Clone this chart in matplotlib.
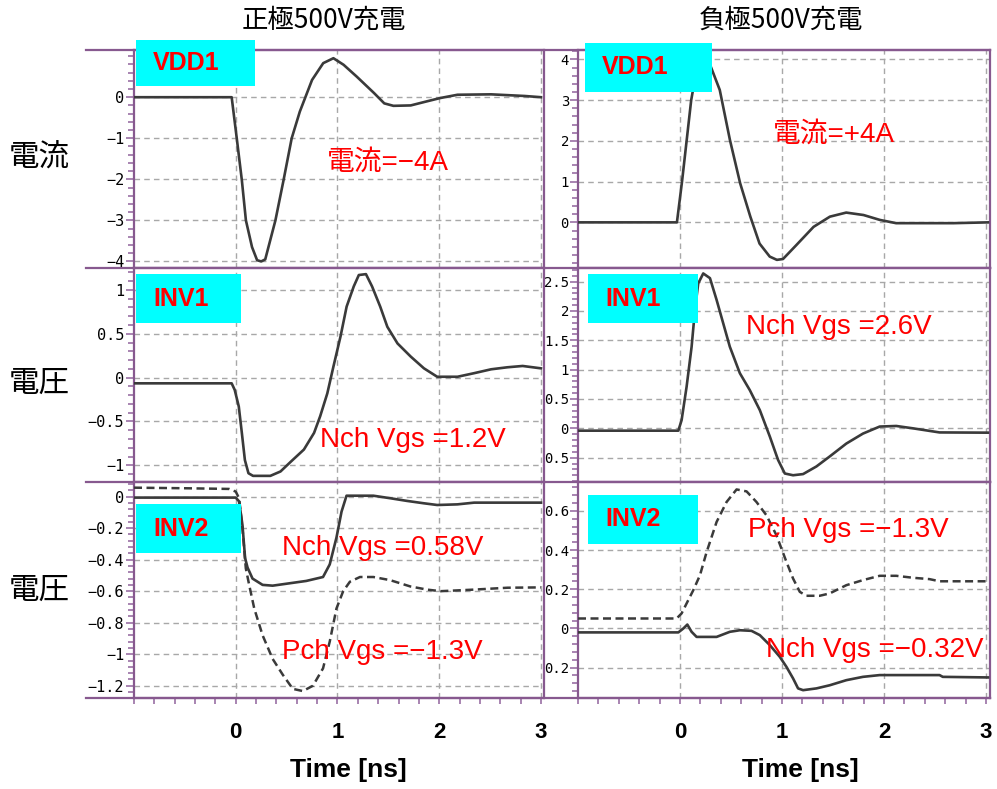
import matplotlib
matplotlib.use('Agg')
import matplotlib.pyplot as plt
from matplotlib.lines import Line2D
from matplotlib.patches import Rectangle
from matplotlib.ticker import FixedLocator, MultipleLocator

W, H = 997, 789
PURPLE = '#87598f'
TICKC = '#9a70a4'
TRACE = '#3a3a3a'
GRIDC = '#a8a8a8'
CYAN = '#00ffff'
RED = '#ff0000'

# waveforms, time in ns
t_vdd1_pos = [-1.0, -0.04, 0.01, 0.06, 0.10, 0.16, 0.21, 0.25, 0.29, 0.39, 0.47, 0.55, 0.63,
              0.75, 0.86, 0.96, 1.06, 1.19, 1.36, 1.46, 1.55, 1.72, 1.88, 2.01, 2.18, 2.51, 2.84, 3.0]
i_vdd1_pos = [0.0, 0.0, -1.0, -2.02, -3.0, -3.65, -3.97, -4.0, -3.95, -3.0, -2.02, -1.0, -0.35,
              0.42, 0.83, 0.95, 0.79, 0.50, 0.10, -0.15, -0.21, -0.20, -0.10, -0.02, 0.06, 0.07, 0.03, 0.0]

t_vdd1_neg = [-1.0, -0.03, 0.02, 0.065, 0.11, 0.16, 0.23, 0.29, 0.39, 0.49, 0.59, 0.69, 0.78,
              0.88, 0.95, 1.01, 1.14, 1.31, 1.47, 1.63, 1.80, 1.96, 2.12, 2.68, 3.02]
i_vdd1_neg = [0.0, 0.0, 1.0, 2.0, 3.0, 3.7, 4.0, 3.9, 3.25, 2.02, 0.96, 0.14, -0.52,
              -0.84, -0.92, -0.9, -0.56, -0.11, 0.14, 0.24, 0.18, 0.06, -0.02, -0.02, 0.0]

t_inv1_pos = [-1.0, -0.04, -0.01, 0.03, 0.06, 0.09, 0.125, 0.17, 0.34, 0.44, 0.54, 0.67, 0.77,
              0.83, 0.90, 0.96, 1.03, 1.09, 1.16, 1.21, 1.28, 1.34, 1.42, 1.49, 1.59, 1.72, 1.85,
              1.98, 2.18, 2.34, 2.51, 2.67, 2.82, 3.0]
v_inv1_pos = [-0.065, -0.065, -0.14, -0.33, -0.63, -0.94, -1.09, -1.12, -1.12, -1.07, -0.96, -0.82, -0.63,
              -0.44, -0.18, 0.125, 0.47, 0.81, 1.04, 1.17, 1.18, 1.04, 0.81, 0.58, 0.39, 0.24, 0.106,
              0.01, 0.01, 0.05, 0.095, 0.118, 0.133, 0.106]

t_inv1_neg = [-1.0, -0.016, 0.016, 0.065, 0.114, 0.147, 0.179, 0.228, 0.294, 0.359, 0.424, 0.489,
              0.587, 0.685, 0.783, 0.881, 0.962, 1.028, 1.109, 1.207, 1.338, 1.468, 1.631, 1.794,
              1.958, 2.121, 2.284, 2.545, 3.02]
v_inv1_neg = [-0.04, -0.04, 0.14, 0.71, 1.39, 2.02, 2.47, 2.64, 2.56, 2.19, 1.79, 1.39,
              0.94, 0.65, 0.31, -0.14, -0.54, -0.77, -0.80, -0.78, -0.65, -0.48, -0.26, -0.09,
              0.03, 0.04, 0.0, -0.07, -0.074]

t_inv2n_pos = [-1.0, 0.0, 0.033, 0.066, 0.092, 0.116, 0.165, 0.264, 0.363, 0.528, 0.693, 0.858,
               0.924, 0.99, 1.04, 1.089, 1.353, 1.518, 1.683, 1.848, 1.98, 2.178, 2.343, 3.0]
v_inv2n_pos = [-0.006, -0.006, -0.03, -0.18, -0.39, -0.45, -0.52, -0.56, -0.565, -0.55, -0.535, -0.51,
               -0.43, -0.26, -0.095, 0.006, 0.006, -0.01, -0.027, -0.042, -0.053, -0.049, -0.038, -0.038]

t_inv2p_pos = [-1.0, -0.46, -0.066, 0.0, 0.033, 0.066, 0.099, 0.132, 0.182, 0.264, 0.363, 0.462,
               0.561, 0.66, 0.759, 0.858, 0.924, 0.99, 1.056, 1.122, 1.221, 1.353, 1.518, 1.716,
               1.881, 2.013, 2.343, 2.673, 3.0]
v_inv2p_pos = [0.057, 0.053, 0.049, 0.032, -0.01, -0.2, -0.455, -0.56, -0.71, -0.88, -1.03, -1.13,
               -1.22, -1.234, -1.2, -1.09, -0.92, -0.71, -0.6, -0.54, -0.51, -0.51, -0.53, -0.57,
               -0.59, -0.6, -0.59, -0.578, -0.576]

t_inv2p_neg = [-1.0, -0.033, 0.016, 0.065, 0.131, 0.196, 0.261, 0.359, 0.457, 0.555, 0.653, 0.75,
               0.848, 0.946, 1.044, 1.109, 1.175, 1.24, 1.37, 1.468, 1.631, 1.794, 1.958, 2.121,
               2.284, 2.447, 2.545, 3.02]
v_inv2p_neg = [0.051, 0.051, 0.077, 0.128, 0.196, 0.272, 0.39, 0.544, 0.646, 0.71, 0.70, 0.646,
               0.578, 0.476, 0.34, 0.255, 0.187, 0.167, 0.167, 0.179, 0.221, 0.247, 0.269, 0.269,
               0.259, 0.252, 0.241, 0.241]

t_inv2n_neg = [-1.0, -0.016, 0.033, 0.072, 0.114, 0.163, 0.359, 0.489, 0.587, 0.701, 0.783, 0.881,
               0.979, 1.044, 1.109, 1.158, 1.207, 1.338, 1.468, 1.631, 1.794, 1.958, 2.545, 2.577, 3.02]
v_inv2n_neg = [-0.02, -0.02, 0.0, 0.02, -0.017, -0.043, -0.043, -0.017, -0.009, -0.012, -0.034, -0.085,
               -0.145, -0.196, -0.255, -0.306, -0.315, -0.306, -0.29, -0.264, -0.247, -0.238, -0.238,
               -0.247, -0.25]

# y tick values and the labels printed beside them
yt_vdd1_pos = [0, -1, -2, -3, -4]
yl_vdd1_pos = ['0', '−1', '−2', '−3', '−4']
yt_vdd1_neg = [0, 1, 2, 3, 4]
yl_vdd1_neg = ['0', '1', '2', '3', '4']
yt_inv1_pos = [1, 0.5, 0, -0.5, -1]
yl_inv1_pos = ['1', '0.5', '0', '−0.5', '−1']
yt_inv1_neg = [2.5, 2, 1.5, 1, 0.5, 0, -0.5]
yl_inv1_neg = ['2.5', '2', '1.5', '1', '0.5', '0', '0.5']
yt_inv2_pos = [0, -0.2, -0.4, -0.6, -0.8, -1, -1.2]
yl_inv2_pos = ['0', '−0.2', '−0.4', '−0.6', '−0.8', '−1', '−1.2']
yt_inv2_neg = [0.6, 0.4, 0.2, 0, -0.2]
yl_inv2_neg = ['0.6', '0.4', '0.2', '0', '0.2']

x_ticks = [0, 1, 2, 3]
x_labels = ['0', '1', '2', '3']

col_titles = ['正極500V充電', '負極500V充電']
row_titles = ['電流', '電圧', '電圧']


def fx(px):
    return px / W


def fy(py):
    return 1 - py / H


fig = plt.figure(figsize=(W / 100, H / 100), dpi=100)
fig.patch.set_facecolor('white')

cols = [(134, 544), (578, 990)]
rows = [(50, 268), (268, 482), (482, 698)]
xlims = [(-1.0, 3.03), (-1.0, 3.04)]
ylims = [[(-4.16, 1.15), (-1.12, 4.23)],
         [(-1.19, 1.25), (-0.915, 2.733)],
         [(-1.278, 0.093), (-0.355, 0.748)]]
yticks = [[(yt_vdd1_pos, yl_vdd1_pos), (yt_vdd1_neg, yl_vdd1_neg)],
          [(yt_inv1_pos, yl_inv1_pos), (yt_inv1_neg, yl_inv1_neg)],
          [(yt_inv2_pos, yl_inv2_pos), (yt_inv2_neg, yl_inv2_neg)]]
yminor = [[0.2, 0.2], [0.1, 0.1], [0.04, 0.04]]
traces = [[[(t_vdd1_pos, i_vdd1_pos, '-')], [(t_vdd1_neg, i_vdd1_neg, '-')]],
          [[(t_inv1_pos, v_inv1_pos, '-')], [(t_inv1_neg, v_inv1_neg, '-')]],
          [[(t_inv2p_pos, v_inv2p_pos, '--'), (t_inv2n_pos, v_inv2n_pos, '-')],
           [(t_inv2p_neg, v_inv2p_neg, '--'), (t_inv2n_neg, v_inv2n_neg, '-')]]]

for r, (ytop, ybot) in enumerate(rows):
    for c, (xl, xr) in enumerate(cols):
        ax = fig.add_axes([fx(xl), fy(ybot), fx(xr) - fx(xl), (ybot - ytop) / H])
        ax.set_xlim(*xlims[c])
        ax.set_ylim(*ylims[r][c])
        for s in ax.spines.values():
            s.set_color(PURPLE)
            s.set_linewidth(1.6)
        for t, v, ls in traces[r][c]:
            if ls == '--':
                ax.plot(t, v, color=TRACE, lw=1.8, dashes=(3.2, 1.8), zorder=3)
            else:
                ax.plot(t, v, color=TRACE, lw=1.9, zorder=3)
        vals, labs = yticks[r][c]
        ax.yaxis.set_major_locator(FixedLocator(vals))
        ax.set_yticklabels(labs, family='DejaVu Sans Mono',
                           fontsize=11 if c == 0 else 10)
        ax.yaxis.set_minor_locator(MultipleLocator(yminor[r][c]))
        ax.tick_params(axis='y', which='major', direction='out', length=6,
                       width=1.2, color=TICKC, pad=1 if c == 0 else 0.5)
        ax.tick_params(axis='y', which='minor', direction='out', length=4,
                       width=1.2, color=TICKC)
        ax.xaxis.set_major_locator(FixedLocator(x_ticks))
        ax.xaxis.set_minor_locator(MultipleLocator(0.2))
        if r == 2:
            ax.set_xticklabels(x_labels, family=['Liberation Sans Narrow', 'Liberation Sans'],
                               fontsize=16, fontweight='bold')
            ax.tick_params(axis='x', which='major', direction='out', length=4,
                           width=1.2, color=TICKC, pad=13)
            ax.tick_params(axis='x', which='minor', direction='out', length=4,
                           width=1.2, color=TICKC)
        else:
            ax.tick_params(axis='x', which='both', length=0, labelbottom=False)
        ax.grid(True, which='major', color=GRIDC, lw=1.0, dashes=(4, 3))
        ax.set_axisbelow(True)

# frame lines running across the label gutters
for yy in [50, 268, 482, 698]:
    fig.add_artist(Line2D([fx(86), fx(990)], [fy(yy), fy(yy)], color=PURPLE, lw=1.6, zorder=5))

# cyan name tags
tags = [('VDD1', 136, 40, 255, 86), ('VDD1', 585, 43, 712, 92),
        ('INV1', 136, 274, 241, 323), ('INV1', 588, 274, 698, 323),
        ('INV2', 136, 504, 241, 553), ('INV2', 588, 495, 698, 544)]
for name, x0, y0, x1, y1 in tags:
    fig.add_artist(Rectangle((fx(x0), fy(y1)), fx(x1) - fx(x0), (y1 - y0) / H,
                             transform=fig.transFigure, facecolor=CYAN,
                             edgecolor='none', zorder=6))
    fig.text(fx(x0 + 17), fy((y0 + y1) / 2), name, color=RED, fontsize=18,
             fontweight='bold', family='Liberation Sans', ha='left', va='center', zorder=7)

notes = [('電流=−4A', 327, 163), ('電流=+4A', 773, 135),
         ('Nch Vgs =1.2V', 320, 440), ('Nch Vgs =2.6V', 746, 327),
         ('Nch Vgs =0.58V', 282, 548), ('Pch Vgs =−1.3V', 282, 652),
         ('Pch Vgs =−1.3V', 748, 530), ('Nch Vgs =−0.32V', 766, 650)]
for txt, x, y in notes:
    fig.text(fx(x), fy(y), txt, color=RED, fontsize=20,
             family=['Liberation Sans', 'Noto Sans CJK JP'], ha='left', va='center', zorder=7)

for txt, x in zip(col_titles, [324, 781]):
    fig.text(fx(x), fy(20), txt, fontsize=19, family=['Noto Sans CJK JP', 'DejaVu Sans'],
             ha='center', va='center')
for txt, y in zip(row_titles, [158, 383, 590]):
    fig.text(fx(39), fy(y), txt, fontsize=22, family=['Noto Sans CJK JP', 'DejaVu Sans'],
             ha='center', va='center')

for x in [348, 800]:
    fig.text(fx(x), fy(770), 'Time [ns]', fontsize=19, fontweight='bold',
             family=['Liberation Sans Narrow', 'Liberation Sans'], ha='center', va='center')

fig.savefig('out.png', dpi=100)
